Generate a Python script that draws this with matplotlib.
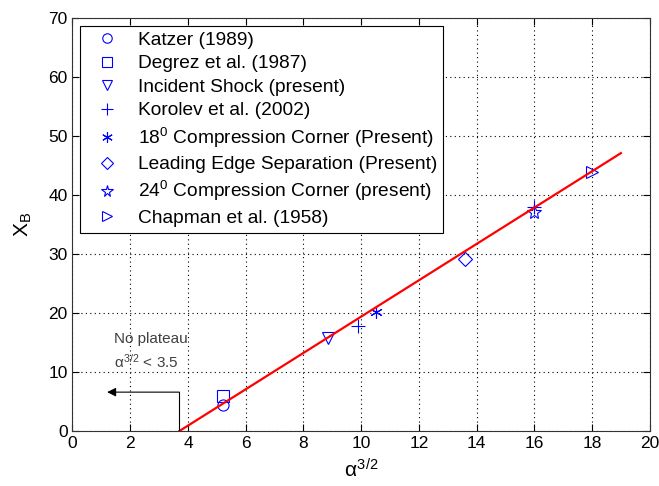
import matplotlib
matplotlib.use("Agg")
import matplotlib.pyplot as plt

plt.rcParams['font.family'] = ['Liberation Sans', 'DejaVu Sans']
plt.rcParams['mathtext.fontset'] = 'custom'
plt.rcParams['mathtext.rm'] = 'Liberation Sans'
plt.rcParams['mathtext.it'] = 'Liberation Sans'

# data
katzer_x, katzer_y = [5.2], [4.5]
degrez_x, degrez_y = [5.2], [6.0]
incident_x, incident_y = [8.85], [15.8]
korolev_x, korolev_y = [9.9, 16.0], [17.8, 38.0]
corner18_x, corner18_y = [10.5], [20.1]
leading_x, leading_y = [13.6], [29.2]
corner24_x, corner24_y = [16.0], [37.2]
chapman_x, chapman_y = [18.0], [43.9]
fit_x, fit_y = [3.7, 19.0], [0.0, 47.1]

series = [
    ("Katzer (1989)", katzer_x, katzer_y, 'o', 8),
    ("Degrez et al. (1987)", degrez_x, degrez_y, 's', 8),
    ("Incident Shock (present)", incident_x, incident_y, 'v', 9),
    ("Korolev et al. (2002)", korolev_x, korolev_y, '+', 10),
    ("18$^{\\mathregular{0}}$ Compression Corner (Present)", corner18_x, corner18_y, (6, 2, 0), 9),
    ("Leading Edge Separation (Present)", leading_x, leading_y, 'D', 7),
    ("24$^{\\mathregular{0}}$ Compression Corner (present)", corner24_x, corner24_y, '*', 10),
    ("Chapman et al. (1958)", chapman_x, chapman_y, '>', 9),
]

fig = plt.figure(figsize=(6.59, 4.86), dpi=100)
ax = fig.add_axes([0.110, 0.113, 0.876, 0.850])

for label, xs, ys, m, ms in series:
    ax.plot(xs, ys, linestyle='none', marker=m, markersize=ms,
            markerfacecolor='none', markeredgecolor='blue',
            markeredgewidth=0.8, color='blue', label=label)

ax.plot(fit_x, fit_y, color='red', linewidth=1.6)

# no plateau annotation
ax.plot([3.7, 3.7], [0, 6.6], color='black', linewidth=0.8)
ax.annotate('', xy=(1.2, 6.6), xytext=(3.7, 6.6),
            arrowprops=dict(arrowstyle='-|>', color='black', lw=0.8,
                            mutation_scale=13, shrinkA=0, shrinkB=0))
ax.text(1.45, 15.6, 'No plateau', fontsize=11, color='#404040', va='center')
ax.text(1.45, 11.8, r'$\alpha^{3/2}$ < 3.5', fontsize=11, color='#404040', va='center')

ax.set_xlim(0, 20)
ax.set_ylim(0, 70)
ax.set_xticks(range(0, 21, 2))
ax.set_yticks(range(0, 71, 10))
ax.grid(True, linestyle=(0, (1, 3)), color='black', linewidth=0.8)
ax.tick_params(direction='in', top=True, right=True, labelsize=12.5, length=5)
for s in ax.spines.values():
    s.set_linewidth(0.8)
    s.set_color('#333333')

ax.set_xlabel(r'$\alpha^{3/2}$', fontsize=15, labelpad=5)
ax.set_ylabel(r'X$_{\mathregular{B}}$', fontsize=15, labelpad=10)

leg = ax.legend(loc='upper left', fontsize=13.8, frameon=True, fancybox=False,
                edgecolor='black', framealpha=1, borderaxespad=0.4,
                handletextpad=0.5, labelspacing=0.32, handlelength=2.2,
                borderpad=0.3, markerscale=0.85)
leg.get_frame().set_linewidth(0.8)

fig.savefig("out.png", dpi=100)
